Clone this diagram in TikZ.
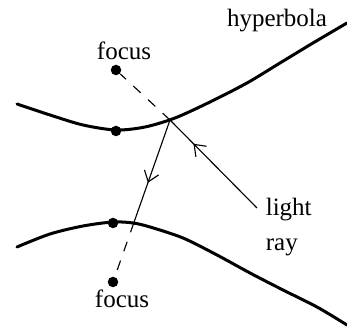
\documentclass[tikz,border=0pt]{standalone}
\usepackage{fontspec}
\setmainfont{Liberation Serif}
\usepackage{tikz}
\usetikzlibrary{positioning,arrows.meta,calc,decorations.markings}
\tikzset{
  branch/.style={line width=1.2pt,line cap=round},
  beam/.style={line width=0.45pt},
  extension/.style={line width=0.45pt,dashed,dash pattern=on 4pt off 4pt},
  dot/.style={circle,fill=black,inner sep=0pt,minimum size=4.2pt},
  midarrow/.style={postaction={decorate},decoration={markings,
      mark=at position #1 with {\arrow{Straight Barb[length=4pt,width=6pt,line width=0.45pt]}}}},
  lbl/.style={font=\normalsize}
}

\begin{document}
\begin{tikzpicture}[x=0.4pt,y=-0.4pt]
  \useasboundingbox (0,0) rectangle (347,330);

  % ── Hyperbola branches ──
  \draw[branch] plot[smooth] coordinates {(17,104) (50,115) (83,125) (116,130) (145,127)
      (175,118) (210,102) (247,83) (280,63) (313,43) (347,23)};
  \draw[branch] plot[smooth] coordinates {(17,247) (50,234) (83,226) (113,222) (133,223)
      (150,227) (183,238) (217,255) (250,273) (283,290) (317,307) (347,325)};
  \node[lbl] (hyp) at (277,21) {hyperbola};

  % ── Foci and vertices ──
  \node[dot] (ftop) at (116,70) {};
  \node[dot] (vtop) at (116,131) {};
  \node[dot] (vbot) at (113,223) {};
  \node[dot] (fbot) at (113,282) {};
  \node[lbl] (ltop) at (124,51) {focus};
  \node[lbl] (lbot) at (122,299) {focus};

  % ── Light ray ──
  \coordinate (src) at (257,208);
  \coordinate (hit) at (170,120);
  \coordinate (cross) at ($(hit)!0.635!(fbot)$);
  \node[lbl,align=left,anchor=west] (ray) at (257,227) {light\\[2pt]ray};
  \draw[beam,midarrow=0.73] (src) -- (hit);
  \draw[extension] (hit) -- (ftop);
  \draw[beam,midarrow=0.61] (hit) -- (cross);
  \draw[extension] (cross) -- (fbot);
\end{tikzpicture}
\end{document}
